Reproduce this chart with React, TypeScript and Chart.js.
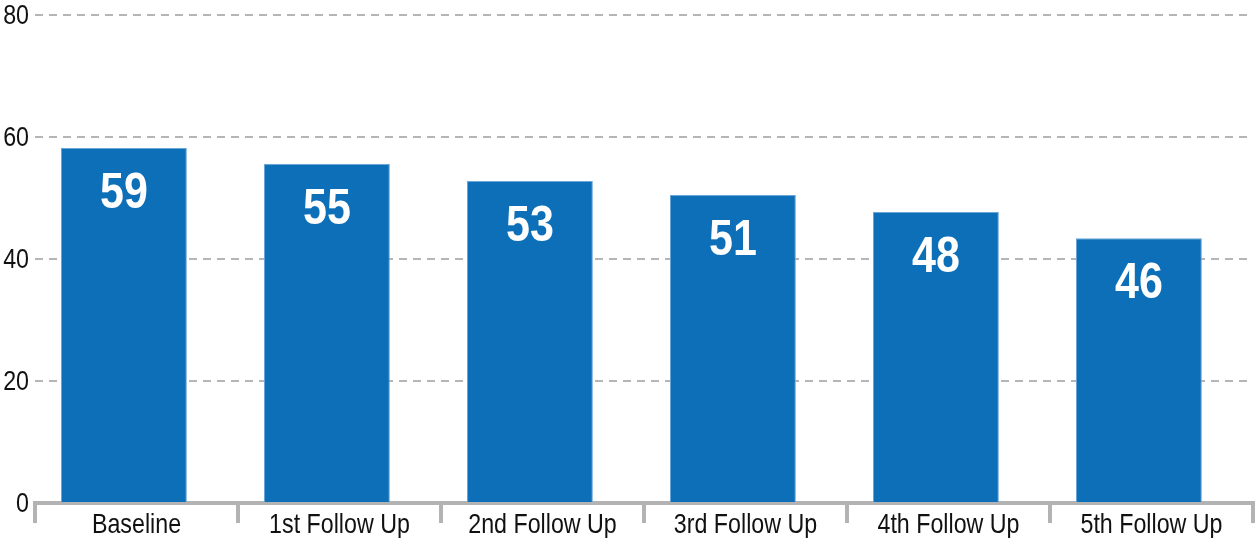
import React, { useEffect, useRef } from "react";
import { Chart, registerables } from "chart.js";

Chart.register(...registerables);

const categories = ["Baseline", "1st Follow Up", "2nd Follow Up", "3rd Follow Up", "4th Follow Up", "5th Follow Up"];
const barValues = [58.2, 55.6, 52.8, 50.5, 47.7, 43.4];
const barLabels = ["59", "55", "53", "51", "48", "46"];
const yTicks = [0, 20, 40, 60, 80];

const FONT = "'Liberation Sans', Arial, sans-serif";
// bars sit slightly left of their category centre in the reference
const BAR_SHIFT = 0.062;

function drawNarrow(ctx: any, text: string, x: number, y: number, scaleX: number, align: string) {
  ctx.save();
  ctx.translate(x, y);
  ctx.scale(scaleX, 1);
  ctx.textAlign = align;
  ctx.fillText(text, 0, 0);
  ctx.restore();
}

const textPlugin = {
  id: "narrowText",
  afterDatasetsDraw(chart: any) {
    const ctx = chart.ctx;
    ctx.save();
    ctx.fillStyle = "#ffffff";
    ctx.font = `bold 50px ${FONT}`;
    ctx.textBaseline = "alphabetic";
    const meta = chart.getDatasetMeta(0);
    meta.data.forEach((bar: any, i: number) => {
      drawNarrow(ctx, barLabels[i], bar.x, bar.y + 60, 0.86, "center");
    });
    const ys = chart.scales.y;
    ctx.fillStyle = "#111111";
    ctx.font = `28px ${FONT}`;
    ctx.textBaseline = "middle";
    yTicks.forEach((v) => {
      drawNarrow(ctx, String(v), 29, ys.getPixelForValue(v) + 1, 0.83, "right");
    });
    const xs = chart.scales.x;
    ctx.textBaseline = "alphabetic";
    categories.forEach((c, i) => {
      drawNarrow(ctx, c, xs.getPixelForValue(i), 533, 0.83, "center");
    });
    ctx.restore();
  },
};

export default function App() {
  const ref = useRef<HTMLCanvasElement>(null);
  useEffect(() => {
    if (!ref.current) return;
    const chart = new Chart(ref.current, {
      type: "bar",
      data: {
        labels: categories,
        datasets: [
          {
            data: barValues.map((v, i) => ({ x: i, y: v })),
            xAxisID: "xb",
            backgroundColor: "#0c6fb8",
            borderColor: "#6aa6d8",
            borderWidth: 1,
            categoryPercentage: 1,
            barPercentage: 0.62,
          },
        ],
      },
      options: {
        animation: false,
        responsive: false,
        maintainAspectRatio: false,
        layout: { padding: { top: 15, right: 2, left: 0, bottom: 0 } },
        plugins: { legend: { display: false }, tooltip: { enabled: false } },
        scales: {
          x: {
            type: "category",
            offset: true,
            afterFit: (s: any) => {
              s.height = 35;
            },
            grid: {
              offset: true,
              drawOnChartArea: false,
              drawTicks: true,
              tickLength: 20,
              lineWidth: 4,
              color: "#b3b3b3",
            },
            border: { display: true, width: 4, color: "#b3b3b3" },
            ticks: { display: false, autoSkip: false },
          },
          xb: {
            type: "linear",
            display: false,
            offset: false,
            min: -0.5 + BAR_SHIFT,
            max: categories.length - 0.5 + BAR_SHIFT,
            afterBuildTicks: (s: any) => {
              s.ticks = categories.map((_, i) => ({ value: i }));
            },
          },
          y: {
            min: 0,
            max: 80,
            afterFit: (s: any) => {
              s.width = 35;
            },
            afterBuildTicks: (s: any) => {
              s.ticks = yTicks.map((v) => ({ value: v }));
            },
            grid: {
              drawTicks: false,
              color: "#b5b5b5",
              lineWidth: 2,
            },
            border: { display: false, dash: [8, 6] },
            ticks: { display: false },
          },
        },
      },
      plugins: [textPlugin],
    } as any);
    return () => chart.destroy();
  }, []);
  return (
    <div style={{ position: "absolute", left: 0, top: 0, width: 1255, height: 538, background: "#fff" }}>
      <canvas ref={ref} width={1255} height={538} style={{ display: "block" }} />
    </div>
  );
}
